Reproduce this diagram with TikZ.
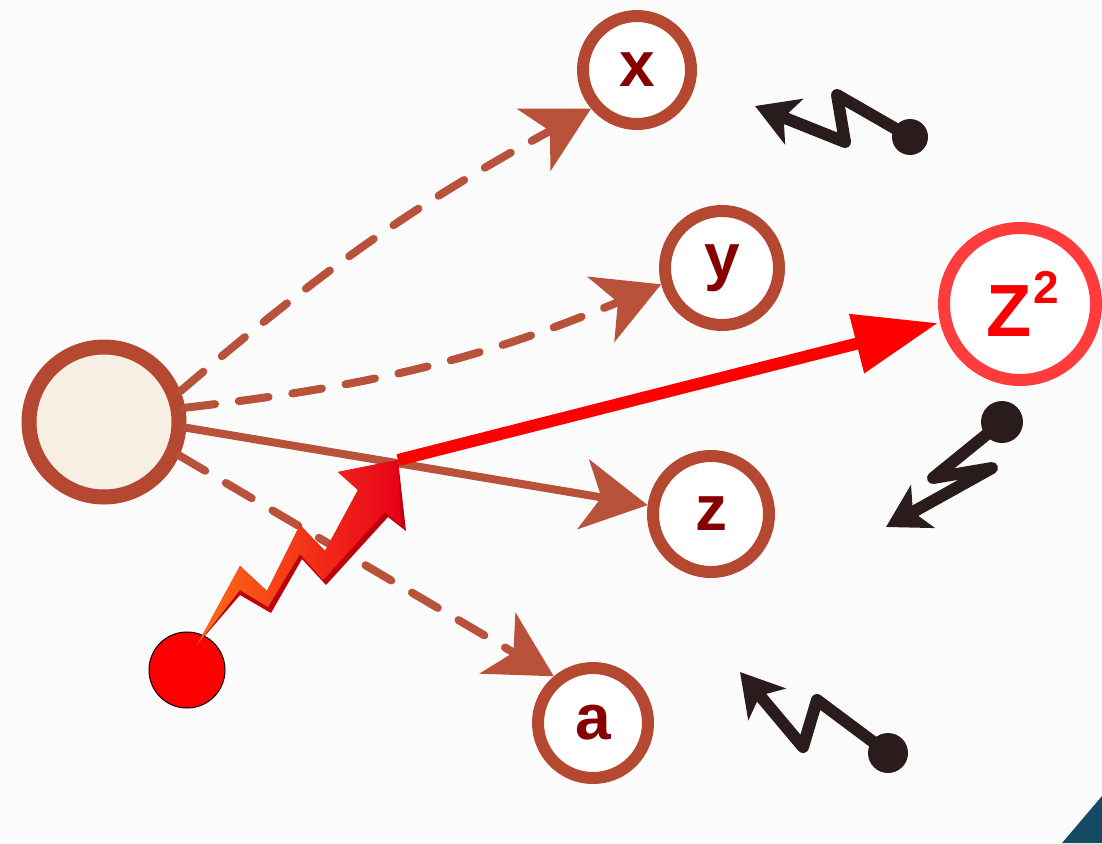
\documentclass[tikz,border=0pt]{standalone}
\usepackage{fontspec}
\setmainfont{Liberation Sans}
\usetikzlibrary{arrows.meta,shapes.geometric}
\definecolor{bg}{RGB}{251,251,251}
\definecolor{ring}{RGB}{180,72,48}
\definecolor{dash}{RGB}{184,82,58}
\definecolor{lbl}{RGB}{135,0,0}
\definecolor{cream}{RGB}{247,238,228}
\definecolor{zring}{RGB}{255,60,60}
\definecolor{zred}{RGB}{250,0,0}
\definecolor{ink}{RGB}{42,28,28}
\definecolor{teal}{RGB}{21,74,99}
\definecolor{boltor}{RGB}{255,110,20}
\definecolor{boltred}{RGB}{232,0,26}
\definecolor{boltdark}{RGB}{190,0,10}
\tikzset{
  var/.style={circle,draw=ring,line width=12pt,fill=white,text=lbl,
    font=\fontsize{64}{64}\selectfont\bfseries,inner sep=0pt},
  link/.style={draw=dash,line width=8pt,line cap=round,
    -{Stealth[length=50pt,width=54pt,inset=14pt,scale=1.3]}},
  dashlink/.style={link,dash pattern=on 30pt off 24pt},
  signal/.style={draw=ink,line width=12pt,line join=round,line cap=round,
    -{Stealth[length=38pt,width=44pt,inset=10pt,scale=1.1]}},
}
\begin{document}
\begin{tikzpicture}[x=1pt,y=-1pt]
\useasboundingbox (0,0) rectangle (1102,843);
\fill[bg] (0,0) rectangle (1102,843);
\fill[teal] (1102,796) -- (1062,843) -- (1102,843) -- cycle;

% nodes
\node[circle,draw=ring,line width=15pt,fill=cream,minimum size=150pt] (src) at (104,422) {};
\node[var,minimum size=108pt] (x) at (637,70) {x};
\node[var,minimum size=114pt] (y) at (722,268) {y};
\node[var,minimum size=116pt] (z) at (711,514) {z};
\node[var,minimum size=110pt] (a) at (593,723) {a};
\node[circle,draw=zring,line width=12pt,fill=white,minimum size=152pt,inner sep=0pt,
  text=zred,font=\fontsize{74}{74}\selectfont\bfseries] (Z2) at (1020,304)
  {\hspace{6pt}Z\hspace{2pt}{\fontsize{46}{46}\selectfont\raisebox{33pt}{2}}};
\node[circle,fill=red,draw=black,line width=1pt,minimum size=76pt,inner sep=0pt] (dot) at (187,670) {};

% brown connectors
\draw[dashlink] (src.22) to[bend left=6] (x.220);
\draw[dashlink] (src.10) to[bend right=8] (y.195);
\draw[link] (src.-4) -- (z.172);
\draw[dashlink] (src.-24) -- (a.130);

% lightning bolt
\coordinate (hit) at (398,460);
\fill[boltdark] (197,645) -- (240,566) -- (267,591) -- (300,525) -- (325,551) -- (358,490)
  -- (338,472) -- (hit) -- (406,531) -- (388,517) -- (326,585) -- (302,559) -- (271,613)
  -- (240,595) -- cycle;
\shade[left color=boltor,right color=boltred] (197,645) -- (240,566) -- (267,591) -- (300,525)
  -- (325,551) -- (358,490) -- (338,472) -- (hit) -- (401,525) -- (385,512)
  -- (323,580) -- (300,554) -- (268,607) -- (240,590) -- cycle;

% red arrow to Z^2
\draw[red,line width=12pt,-{Triangle[length=84pt,width=58pt]}] (hit) -- (Z2.west |- 0,323);

% black signals
\coordinate (s1) at (910,137);
\draw[signal] (s1) -- (837,95) -- (845,142) -- (755,106);
\fill[ink] (s1) circle (18pt);
\coordinate (s2) at (1002,422);
\draw[signal] (s2) -- (933,478) -- (992,468) -- (886,527);
\fill[ink] (s2) circle (21pt);
\coordinate (s3) at (888,753);
\draw[signal] (s3) -- (817,700) -- (803,747) -- (740,672);
\fill[ink] (s3) circle (20pt);
\end{tikzpicture}
\end{document}
